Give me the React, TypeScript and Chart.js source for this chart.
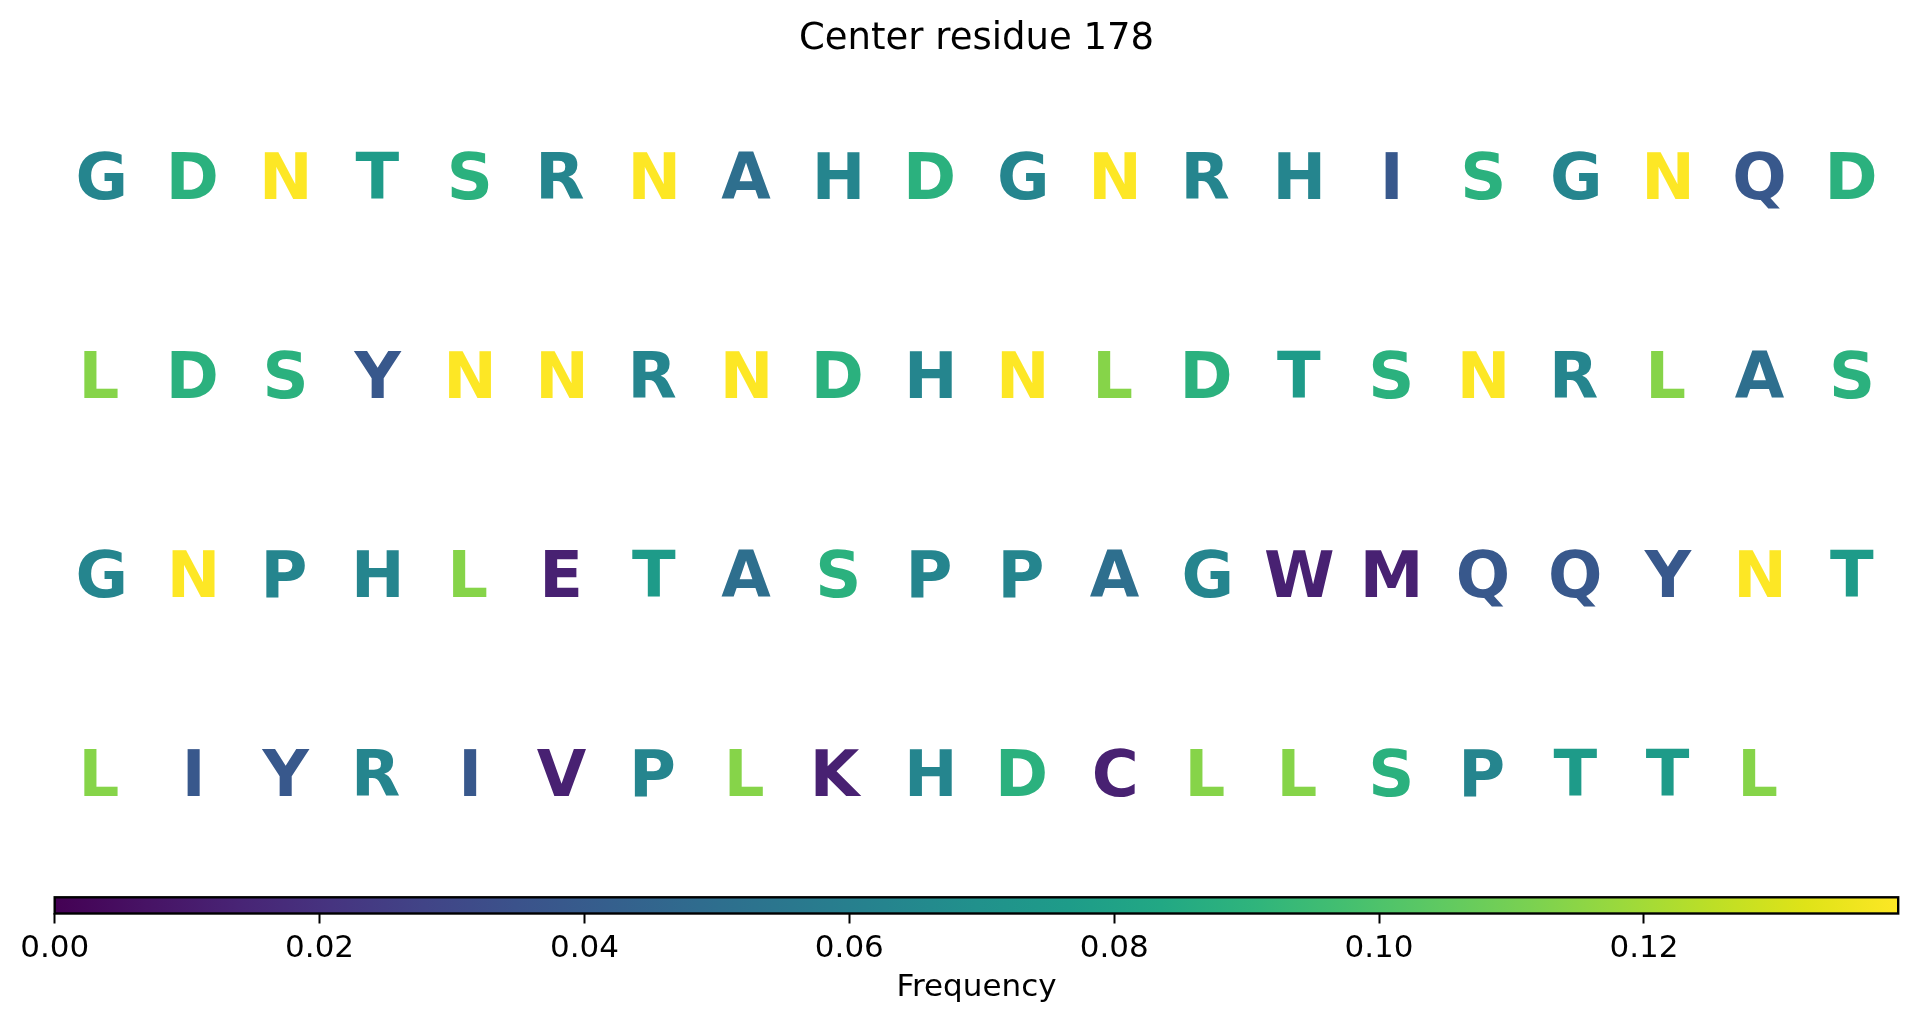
import React, { useEffect, useRef } from 'react';
import { Chart, registerables } from 'chart.js';

Chart.register(...registerables);

const TITLE = 'Center residue 178';
const COLORBAR_LABEL = 'Frequency';

// Sequence window, one string per row of the grid
const ROW_LETTERS = [
  'GDNTSRNAHDGNRHISGNQD',
  'LDSYNNRNDHNLDTSNRLAS',
  'GNPHLETASPPAGWMQQYNT',
  'LIYRIVPLKHDCLLSPTTL',
];

const RESIDUES = ['N', 'L', 'D', 'S', 'T', 'G', 'R', 'H', 'P', 'A', 'I', 'Q', 'Y', 'E', 'W', 'M', 'V', 'K', 'C'];
const FREQUENCIES = [0.1392, 0.1139, 0.0886, 0.0886, 0.0759, 0.0633, 0.0633, 0.0633, 0.0633, 0.0506, 0.038, 0.038, 0.038, 0.0127, 0.0127, 0.0127, 0.0127, 0.0127, 0.0127];

const COLOR_MIN = 0;
const COLOR_MAX = 0.1392;
const COLORBAR_TICKS = [0, 0.02, 0.04, 0.06, 0.08, 0.1, 0.12];

const VIRIDIS = [
  '#440154', '#471365', '#482475', '#463480', '#414487', '#3b528b', '#355f8d',
  '#2f6c8e', '#2a788e', '#25848e', '#21918c', '#1e9c89', '#22a884', '#2fb47c',
  '#44bf70', '#5ec962', '#7ad151', '#9bd93c', '#bddf26', '#dfe318', '#fde725',
];

const FONT = '"DejaVu Sans", "Liberation Sans", sans-serif';
const LETTER_SIZE = 64;

function hexToRgb(h: string) {
  return [parseInt(h.slice(1, 3), 16), parseInt(h.slice(3, 5), 16), parseInt(h.slice(5, 7), 16)];
}

function viridis(t: number) {
  const c = Math.max(0, Math.min(1, t));
  const pos = c * (VIRIDIS.length - 1);
  const i = Math.min(Math.floor(pos), VIRIDIS.length - 2);
  const f = pos - i;
  const a = hexToRgb(VIRIDIS[i]);
  const b = hexToRgb(VIRIDIS[i + 1]);
  const rgb = a.map((v, k) => Math.round(v + (b[k] - v) * f));
  return `rgb(${rgb[0]},${rgb[1]},${rgb[2]})`;
}

function freqOf(letter: string) {
  const idx = RESIDUES.indexOf(letter);
  return idx >= 0 ? FREQUENCIES[idx] : 0;
}

const letterPlugin = {
  id: 'letters',
  afterDatasetsDraw(chart: any) {
    const ctx = chart.ctx;
    const meta = chart.getDatasetMeta(0);
    const raw = chart.data.datasets[0].data;
    ctx.save();
    ctx.font = `bold ${LETTER_SIZE}px ${FONT}`;
    ctx.textAlign = 'left';
    ctx.textBaseline = 'alphabetic';
    meta.data.forEach((el: any, i: number) => {
      const p = raw[i];
      const m = ctx.measureText(p.letter);
      const shift = (m.actualBoundingBoxRight - m.actualBoundingBoxLeft) / 2;
      ctx.fillStyle = viridis((p.freq - COLOR_MIN) / (COLOR_MAX - COLOR_MIN));
      ctx.fillText(p.letter, el.x - shift, el.y + 0.3645 * LETTER_SIZE);
    });
    ctx.restore();
  },
};

const colorbarPlugin = {
  id: 'colorbar',
  beforeDatasetsDraw(chart: any) {
    const { ctx, chartArea } = chart;
    const { left, right, top, bottom } = chartArea;
    ctx.save();
    const g = ctx.createLinearGradient(left, 0, right, 0);
    VIRIDIS.forEach((c, i) => g.addColorStop(i / (VIRIDIS.length - 1), c));
    ctx.fillStyle = g;
    ctx.fillRect(left, top, right - left, bottom - top);
    ctx.lineWidth = 2.4;
    ctx.strokeStyle = '#000';
    ctx.strokeRect(left, top, right - left, bottom - top);
    ctx.restore();
  },
};

export default function App() {
  const mainRef = useRef<HTMLCanvasElement>(null);
  const barRef = useRef<HTMLCanvasElement>(null);

  useEffect(() => {
    const points: any[] = [];
    ROW_LETTERS.forEach((row, r) => {
      row.split('').forEach((letter, c) => {
        points.push({ x: c, y: r, letter, freq: freqOf(letter) });
      });
    });

    const main = new Chart(mainRef.current as HTMLCanvasElement, {
      type: 'scatter',
      data: { datasets: [{ data: points, pointRadius: 0, pointHoverRadius: 0 }] as any },
      options: {
        animation: false,
        responsive: false,
        events: [],
        layout: { padding: { left: 55, right: 19, top: 0, bottom: 7.4 } },
        plugins: {
          legend: { display: false },
          tooltip: { enabled: false },
          title: {
            display: true,
            text: TITLE,
            color: '#000',
            font: { family: FONT, size: 37, weight: 'normal' as any },
            padding: { top: 17.5, bottom: 14.1 },
          },
        },
        scales: {
          x: { type: 'linear', min: -0.5, max: 19.5, display: false },
          y: { type: 'linear', min: -0.5, max: 3.5, reverse: true, display: false },
        },
      },
      plugins: [letterPlugin],
    });

    const bar = new Chart(barRef.current as HTMLCanvasElement, {
      type: 'scatter',
      data: { datasets: [{ data: [] }] },
      options: {
        animation: false,
        responsive: false,
        events: [],
        layout: { padding: { left: 54.7, right: 18.8, top: 17.3, bottom: 0 } },
        plugins: { legend: { display: false }, tooltip: { enabled: false }, title: { display: false } },
        scales: {
          x: {
            type: 'linear',
            position: 'bottom',
            min: COLOR_MIN,
            max: COLOR_MAX,
            afterBuildTicks: (s: any) => {
              s.ticks = COLORBAR_TICKS.map((v) => ({ value: v }));
            },
            afterFit: (s: any) => {
              s.height = 111.5;
            },
            ticks: {
              callback: (v: any) => Number(v).toFixed(2),
              color: '#000',
              font: { family: FONT, size: 31 },
              padding: 7,
              maxRotation: 0,
              autoSkip: false,
            },
            grid: {
              display: true,
              drawOnChartArea: false,
              drawTicks: true,
              tickLength: 10,
              tickWidth: 2,
              tickColor: '#000',
            },
            border: { display: false },
            title: {
              display: true,
              text: COLORBAR_LABEL,
              color: '#000',
              font: { family: FONT, size: 31 },
              padding: { top: 18.4, bottom: 18.4 },
            },
          } as any,
          y: { type: 'linear', display: false, min: 0, max: 1 },
        },
      },
      plugins: [colorbarPlugin],
    });

    return () => {
      main.destroy();
      bar.destroy();
    };
  }, []);

  return (
    <div style={{ position: 'absolute', left: 0, top: 0, width: 1917, height: 1025, background: '#fff' }}>
      <canvas
        ref={mainRef}
        width={1917}
        height={880}
        style={{ position: 'absolute', left: 0, top: 0, width: 1917, height: 880 }}
      />
      <canvas
        ref={barRef}
        width={1917}
        height={145}
        style={{ position: 'absolute', left: 0, top: 880, width: 1917, height: 145 }}
      />
    </div>
  );
}
